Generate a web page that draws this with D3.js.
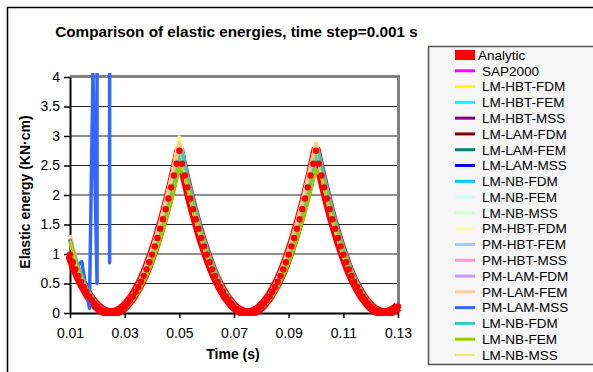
<!DOCTYPE html>
<html>
<head>
<meta charset="utf-8">
<script src="https://cdn.jsdelivr.net/npm/d3@7"></script>
<style>
  body { margin: 0; background: #fff; }
  svg { display: block; font-family: Arial, "Liberation Sans", sans-serif; }
</style>
</head>
<body>
<svg id="chart" width="593" height="372"></svg>
<script>
// ---- data ----
const xTicks = [0.01, 0.03, 0.05, 0.07, 0.09, 0.11, 0.13];
const yTicks = [0, 0.5, 1, 1.5, 2, 2.5, 3, 3.5, 4];

// analytic solution, one value per time step (0.001 s)
const tAnalytic = [
  0.010, 0.011, 0.012, 0.013, 0.014, 0.015, 0.016, 0.017, 0.018, 0.019,
  0.020, 0.021, 0.022, 0.023, 0.024, 0.025, 0.026, 0.027, 0.028, 0.029,
  0.030, 0.031, 0.032, 0.033, 0.034, 0.035, 0.036, 0.037, 0.038, 0.039,
  0.040, 0.041, 0.042, 0.043, 0.044, 0.045, 0.046, 0.047, 0.048, 0.049,
  0.050, 0.051, 0.052, 0.053, 0.054, 0.055, 0.056, 0.057, 0.058, 0.059,
  0.060, 0.061, 0.062, 0.063, 0.064, 0.065, 0.066, 0.067, 0.068, 0.069,
  0.070, 0.071, 0.072, 0.073, 0.074, 0.075, 0.076, 0.077, 0.078, 0.079,
  0.080, 0.081, 0.082, 0.083, 0.084, 0.085, 0.086, 0.087, 0.088, 0.089,
  0.090, 0.091, 0.092, 0.093, 0.094, 0.095, 0.096, 0.097, 0.098, 0.099,
  0.100, 0.101, 0.102, 0.103, 0.104, 0.105, 0.106, 0.107, 0.108, 0.109,
  0.110, 0.111, 0.112, 0.113, 0.114, 0.115, 0.116, 0.117, 0.118, 0.119,
  0.120, 0.121, 0.122, 0.123, 0.124, 0.125, 0.126, 0.127, 0.128, 0.129,
  0.130
];
const analytic = [
  0.99, 0.86, 0.74, 0.63, 0.53, 0.44, 0.36, 0.28, 0.22, 0.16,
  0.11, 0.07, 0.04, 0.02, 0, 0, 0, 0.02, 0.04, 0.07,
  0.11, 0.16, 0.22, 0.28, 0.36, 0.44, 0.53, 0.63, 0.74, 0.86,
  0.99, 1.13, 1.27, 1.43, 1.59, 1.76, 1.94, 2.13, 2.33, 2.53,
  2.75, 2.53, 2.33, 2.13, 1.94, 1.76, 1.59, 1.43, 1.27, 1.13,
  0.99, 0.86, 0.74, 0.63, 0.53, 0.44, 0.36, 0.28, 0.22, 0.16,
  0.11, 0.07, 0.04, 0.02, 0, 0, 0, 0.02, 0.04, 0.07,
  0.11, 0.16, 0.22, 0.28, 0.36, 0.44, 0.53, 0.63, 0.74, 0.86,
  0.99, 1.13, 1.27, 1.43, 1.59, 1.76, 1.94, 2.13, 2.33, 2.53,
  2.75, 2.53, 2.33, 2.13, 1.94, 1.76, 1.59, 1.43, 1.27, 1.13,
  0.99, 0.86, 0.74, 0.63, 0.53, 0.44, 0.36, 0.28, 0.22, 0.16,
  0.11, 0.07, 0.04, 0.02, 0, 0, 0, 0.02, 0.04, 0.07,
  0.11
];

// numerical models, sampled every 0.0025 s
const tGrid = [
  0.0100, 0.0125, 0.0150, 0.0175, 0.0200, 0.0225, 0.0250, 0.0275, 0.0300, 0.0325,
  0.0350, 0.0375, 0.0400, 0.0425, 0.0450, 0.0475, 0.0500, 0.0525, 0.0550, 0.0575,
  0.0600, 0.0625, 0.0650, 0.0675, 0.0700, 0.0725, 0.0750, 0.0775, 0.0800, 0.0825,
  0.0850, 0.0875, 0.0900, 0.0925, 0.0950, 0.0975, 0.1000, 0.1025, 0.1050, 0.1075,
  0.1100, 0.1125, 0.1150, 0.1175, 0.1200, 0.1225, 0.1250, 0.1275, 0.1300
];
// the second NB-FDM curve runs a little behind the others
const tLag = [
  0.0100, 0.0134, 0.0159, 0.0184, 0.0209, 0.0234, 0.0259, 0.0284, 0.0309, 0.0334,
  0.0359, 0.0384, 0.0409, 0.0434, 0.0459, 0.0484, 0.0509, 0.0534, 0.0559, 0.0584,
  0.0609, 0.0634, 0.0659, 0.0684, 0.0709, 0.0734, 0.0759, 0.0784, 0.0809, 0.0834,
  0.0859, 0.0884, 0.0909, 0.0934, 0.0959, 0.0984, 0.1009, 0.1034, 0.1059, 0.1084,
  0.1109, 0.1134, 0.1159, 0.1184, 0.1209, 0.1234, 0.1259, 0.1284, 0.1300
];

const lmMain = [
  1.25, 0.80, 0.47, 0.26, 0.11, 0.03, 0,
  0.03, 0.11, 0.25, 0.44, 0.70, 1.00, 1.36, 1.78, 2.25, 2.78,
  2.25, 1.78, 1.36, 1.00, 0.70, 0.44, 0.25, 0.11, 0.03, 0,
  0.03, 0.11, 0.25, 0.44, 0.70, 1.00, 1.36, 1.78, 2.25, 2.78,
  2.25, 1.78, 1.36, 1.00, 0.70, 0.44, 0.25, 0.11, 0.03, 0,
  0.03, 0.11
];
const hbtFdm = [
  1.28, 0.82, 0.48, 0.26, 0.11, 0.03, 0,
  0.03, 0.11, 0.26, 0.46, 0.73, 1.05, 1.43, 1.87, 2.37, 2.98,
  2.37, 1.87, 1.43, 1.05, 0.73, 0.46, 0.26, 0.11, 0.03, 0,
  0.03, 0.11, 0.26, 0.46, 0.72, 1.04, 1.41, 1.84, 2.33, 2.90,
  2.33, 1.84, 1.41, 1.04, 0.72, 0.46, 0.26, 0.11, 0.03, 0,
  0.03, 0.11
];
const pmMss = [
  1.32, 0.84, 0.45, 0.23, 0.10, 0.02, 0,
  0.04, 0.13, 0.28, 0.49, 0.76, 1.08, 1.46, 1.90, 2.39, 2.88,
  2.23, 1.75, 1.33, 0.97, 0.67, 0.42, 0.23, 0.10, 0.02, 0,
  0.04, 0.13, 0.28, 0.49, 0.76, 1.08, 1.46, 1.90, 2.39, 2.87,
  2.23, 1.75, 1.33, 0.97, 0.67, 0.42, 0.23, 0.10, 0.02, 0,
  0.04, 0.13
];
const nbFdm = [
  1.20, 0.74, 0.44, 0.25, 0.11, 0.03, 0,
  0.03, 0.11, 0.25, 0.44, 0.69, 0.99, 1.35, 1.77, 2.24, 2.76,
  2.24, 1.77, 1.35, 0.99, 0.69, 0.44, 0.25, 0.11, 0.03, 0,
  0.03, 0.11, 0.25, 0.44, 0.69, 0.99, 1.35, 1.77, 2.24, 2.74,
  2.24, 1.77, 1.35, 0.99, 0.69, 0.44, 0.25, 0.11, 0.03, 0,
  0.03, 0.08
];
const nbFem = [
  1.22, 0.80, 0.50, 0.29, 0.14, 0.04, 0,
  0.01, 0.08, 0.19, 0.36, 0.58, 0.85, 1.18, 1.55, 1.98, 2.47,
  2.27, 1.80, 1.40, 1.04, 0.74, 0.48, 0.29, 0.14, 0.04, 0,
  0.01, 0.08, 0.19, 0.36, 0.58, 0.85, 1.18, 1.55, 1.98, 2.43,
  2.27, 1.80, 1.40, 1.04, 0.74, 0.48, 0.29, 0.14, 0.04, 0,
  0.01, 0.08
];
// PM-LAM-MSS goes unstable right at the start (values far above the axis)
const tBlue = [0.0100, 0.0125, 0.0143, 0.0171, 0.0184, 0.0199, 0.0203, 0.0244, 0.0245, 0.0249];
const blueVals = [1.25, 0.80, 0.87, 0.08, 4.05, 0.50, 1000, 1000, 0.85, 1000];

const seriesNames = [
  'Analytic', 'SAP2000', 'LM-HBT-FDM', 'LM-HBT-FEM', 'LM-HBT-MSS',
  'LM-LAM-FDM', 'LM-LAM-FEM', 'LM-LAM-MSS', 'LM-NB-FDM', 'LM-NB-FEM',
  'LM-NB-MSS', 'PM-HBT-FDM', 'PM-HBT-FEM', 'PM-HBT-MSS', 'PM-LAM-FDM',
  'PM-LAM-FEM', 'PM-LAM-MSS', 'LM-NB-FDM', 'LM-NB-FEM', 'LM-NB-MSS'
];
const seriesColors = [
  '#ff0000', '#ff00ff', '#ffff00', '#00ffff', '#800080',
  '#800000', '#008080', '#0000ff', '#00ccff', '#ccffff',
  '#ccffcc', '#ffff99', '#99ccff', '#ff99cc', '#cc99ff',
  '#ffcc99', '#3366ff', '#33cccc', '#99cc00', '#ffcc00'
];

// which time / value arrays each series uses (index 0 is Analytic)
const seriesData = [
  [tAnalytic, analytic],
  [tGrid, lmMain], [tGrid, hbtFdm], [tGrid, lmMain], [tGrid, lmMain],
  [tGrid, lmMain], [tGrid, lmMain], [tGrid, lmMain], [tGrid, lmMain], [tGrid, lmMain],
  [tGrid, lmMain], [tGrid, hbtFdm], [tGrid, lmMain], [tGrid, pmMss], [tGrid, lmMain],
  [tGrid, pmMss], [tBlue, blueVals], [tLag, nbFdm], [tGrid, nbFem], [tGrid, lmMain]
];

// ---- drawing ----
const svg = d3.select('#chart');
const font = 'Arial, "Liberation Sans", sans-serif';

const x = d3.scaleLinear().domain([0.01, 0.13]).range([70, 398]);
const y = d3.scaleLinear().domain([0, 4]).range([313, 77]);
const [x0, x1] = x.range();
const [y0, y1] = y.range();

// chart area frame (runs off the right/bottom edge of the picture)
svg.append('rect')
  .attr('x', 7.5).attr('y', 7.5)
  .attr('width', 700).attr('height', 500)
  .attr('fill', '#fff')
  .attr('stroke', '#000')
  .attr('stroke-width', 1.5);

svg.append('text')
  .attr('x', 236.5).attr('y', 36.5)
  .attr('text-anchor', 'middle')
  .attr('font-size', 15.3)
  .attr('font-weight', 'bold')
  .text('Comparison of elastic energies, time step=0.001 s');

// gridlines
svg.append('g')
  .selectAll('line')
  .data(yTicks.filter(d => d > 0 && d < 4))
  .join('line')
    .attr('x1', x0).attr('x2', x1)
    .attr('y1', d => y(d)).attr('y2', d => y(d))
    .attr('stroke', '#222')
    .attr('stroke-width', 1.2);

// grey plot border on top and right
svg.append('path')
  .attr('d', `M${x0},${y1 - 0.5}H${x1 + 0.5}V${y0}`)
  .attr('fill', 'none')
  .attr('stroke', '#808080')
  .attr('stroke-width', 3);

const xAxis = svg.append('g')
  .attr('transform', `translate(0,${y0})`)
  .call(d3.axisBottom(x).tickValues(xTicks).tickFormat(d => d.toFixed(2))
    .tickSize(5).tickSizeOuter(0).tickPadding(10));
const yAxis = svg.append('g')
  .attr('transform', `translate(${x0},0)`)
  .call(d3.axisLeft(y).tickValues(yTicks).tickFormat(d => String(d))
    .tickSize(6).tickSizeOuter(0).tickPadding(4));

[xAxis, yAxis].forEach(g => {
  g.attr('font-family', font).attr('font-size', 14);
  g.select('.domain').attr('stroke', '#000').attr('stroke-width', 2);
  g.selectAll('.tick line').attr('stroke', '#000').attr('stroke-width', 1.5);
  g.selectAll('.tick text').attr('fill', '#000');
});

svg.append('text')
  .attr('transform', 'translate(30,192) rotate(-90)')
  .attr('text-anchor', 'middle')
  .attr('font-size', 14)
  .attr('font-weight', 'bold')
  .text('Elastic energy (KN·cm)');

svg.append('text')
  .attr('x', 233).attr('y', 358.5)
  .attr('text-anchor', 'middle')
  .attr('font-size', 14)
  .attr('font-weight', 'bold')
  .text('Time (s)');

// series
svg.append('defs').append('clipPath').attr('id', 'plotClip')
  .append('rect')
    .attr('x', x0 - 4).attr('y', y1 - 4)
    .attr('width', x1 - x0 + 7).attr('height', y0 - y1 + 7);

const series = svg.append('g').attr('clip-path', 'url(#plotClip)');
const line = d3.line().x(d => x(d[0])).y(d => y(d[1]));
const pts = i => seriesData[i][0].map((t, k) => [t, seriesData[i][1][k]]);

seriesNames.forEach((name, i) => {
  let w = 3.5;
  if (i === 0) w = 10;
  if (i === seriesNames.length - 1) w = 1;
  series.append('path')
    .datum(pts(i))
    .attr('d', line)
    .attr('fill', 'none')
    .attr('stroke', seriesColors[i])
    .attr('stroke-width', w)
    .attr('stroke-linejoin', 'round');
});

// analytic markers sit on top
series.append('g')
  .selectAll('circle')
  .data(pts(0))
  .join('circle')
    .attr('cx', d => x(d[0]))
    .attr('cy', d => y(d[1]))
    .attr('r', 3.2)
    .attr('fill', '#ff0000');

// legend
const legend = svg.append('g').attr('font-size', 13.5);
legend.append('rect')
  .attr('x', 428.5).attr('y', 46.5)
  .attr('width', 200).attr('height', 318)
  .attr('fill', '#f6f6f6')
  .attr('stroke', '#555')
  .attr('stroke-width', 1.5);

const rowY = d3.scaleLinear().domain([0, seriesNames.length - 1]).range([55, 355]);
const rows = legend.selectAll('g.row')
  .data(seriesNames)
  .join('g')
    .attr('class', 'row')
    .attr('transform', (d, i) => `translate(0,${rowY(i)})`);

rows.each(function (d, i) {
  const g = d3.select(this);
  if (i === 0) {
    g.append('rect').attr('x', 455).attr('y', -5).attr('width', 20).attr('height', 10)
      .attr('fill', seriesColors[i]);
  } else {
    g.append('line').attr('x1', 455).attr('x2', 475)
      .attr('stroke', seriesColors[i])
      .attr('stroke-width', i === seriesNames.length - 1 ? 1 : 3);
  }
  g.append('text')
    .attr('x', i === 0 ? 478 : 482)
    .attr('y', 4.8)
    .attr('fill', '#000')
    .text(d);
});
</script>
</body>
</html>
